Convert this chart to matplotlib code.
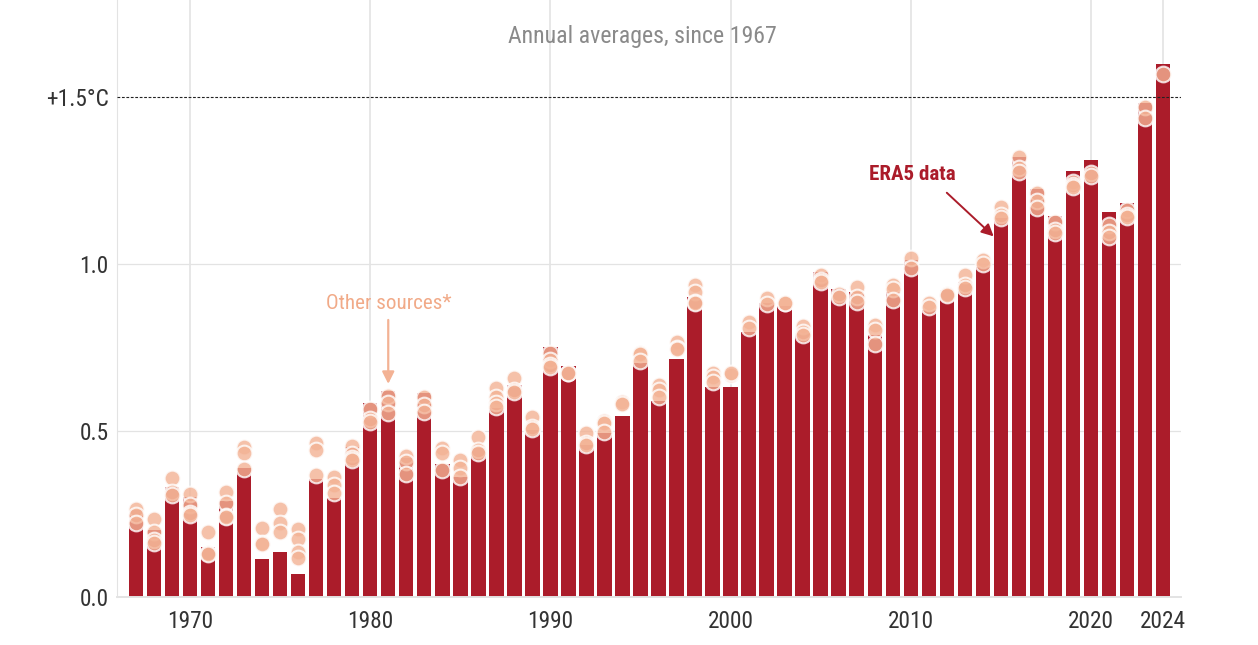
#! /usr/bin/python3

import matplotlib
matplotlib.use("Agg")
import matplotlib.pyplot as plt
from matplotlib import font_manager

names = {f.name for f in font_manager.fontManager.ttflist}
cond = "Roboto Condensed" if "Roboto Condensed" in names else "Roboto"
plt.rcParams['font.family'] = [cond, 'DejaVu Sans']

### Data
years = list(range(1967, 2025))
era5 = [0.26, 0.20, 0.33, 0.30, 0.15, 0.288, 0.387, 0.114, 0.135, 0.069,
        0.354, 0.297, 0.45, 0.582, 0.618, 0.417, 0.612, 0.399, 0.36, 0.447,
        0.567, 0.636, 0.501, 0.751, 0.694, 0.456, 0.492, 0.543, 0.702, 0.588,
        0.714, 0.90, 0.631, 0.63, 0.796, 0.883, 0.874, 0.793, 0.976, 0.925,
        0.916, 0.787, 0.916, 1.012, 0.862, 0.922, 0.946, 0.991, 1.138, 1.321,
        1.225, 1.144, 1.279, 1.312, 1.156, 1.183, 1.483, 1.60]

others = [[.264, .246, .222], [.234, .195, .171, .162], [.357, .315, .306], [.309, .276, .252, .246],
          [.195, .132, .129], [.315, .282, .243, .24], [.45, .432, .384], [.207, .162, .159],
          [.264, .222, .195], [.204, .174, .135, .117], [.462, .441, .366], [.36, .336, .312],
          [.453, .429, .417, .411], [.564, .534, .525], [.603, .582, .552], [.423, .405, .369],
          [.600, .576, .555], [.447, .432, .381], [.411, .387, .36], [.48, .441, .432],
          [.627, .6, .582, .57], [.657, .621, .615], [.54, .51, .504], [.732, .711, .696, .69],
          [.672, .672], [.492, .462, .456], [.528, .522, .495], [.585, .579], [.732, .729, .708],
          [.636, .621, .6], [.765, .747, .744], [.936, .915, .885, .882], [.672, .66, .645],
          [.666, .672], [.825, .807], [.897, .879], [.882, .882], [.813, .795, .786],
          [.966, .951, .945], [.909, .9], [.93, .9, .885], [.816, .801, .759], [.936, .924, .891],
          [1.017, .987], [.882, .87], [.909, .906], [.966, .936, .927], [1.012, 1.0],
          [1.171, 1.147, 1.138], [1.321, 1.288, 1.276], [1.213, 1.189, 1.168], [1.126, 1.102, 1.093],
          [1.246, 1.237, 1.231], [1.273, 1.264], [1.117, 1.096, 1.081], [1.162, 1.147, 1.141],
          [1.471, 1.438], [1.57]]

xticks = [1970, 1980, 1990, 2000, 2010, 2020, 2024]
yticks = [0.0, 0.5, 1.0, 1.5]
ylabels = ["0.0", "0.5", "1.0", "+1.5°C"]

RED = "#ab1c2a"
PEACH = "#f3b294"
GRID = "#e3e3e3"
TEXT = "#333333"

#Figure, axes placed by hand to line up with the pixels
fig = plt.figure(figsize=(12.58, 6.45), dpi=100)
ax = fig.add_axes([117/1258, 48/645, (1181-117)/1258, 597/645])
x0 = 1967 - 19/18.018
x1 = 2024 + 18/18.018
ax.set_xlim(x0, x1)
ax.set_ylim(0, 597/333)

for s in ax.spines.values():
    s.set_visible(False)
ax.spines['left'].set_visible(True)
ax.spines['left'].set_color(GRID)
ax.spines['bottom'].set_visible(True)
ax.spines['bottom'].set_color(GRID)
ax.spines['bottom'].set_linewidth(1.4)

ax.set_axisbelow(True)
ax.vlines(xticks, 0, 597/333, color=GRID, lw=1.2, zorder=0)
ax.hlines([0.5, 1.0], x0, x1, color=GRID, lw=0.9, zorder=0)

ax.bar(years, era5, width=0.8, color=RED, zorder=2)

for year, vals in zip(years, others):
    ax.scatter([year]*len(vals), vals, s=128, facecolor=PEACH, edgecolor=(1, 1, 1, 0.6),
               linewidth=1.5, alpha=0.8, zorder=3)

ax.hlines(1.5, x0, x1, color="#222222", lw=0.8, linestyle=(0, (2.5, 1.5)), zorder=4)

ax.set_xticks(xticks)
ax.set_xticklabels([str(x) for x in xticks], fontsize=16.8, color=TEXT)
ax.set_yticks(yticks)
ax.set_yticklabels(ylabels, fontsize=16.8, color=TEXT)
ax.tick_params(axis='both', length=0)
ax.tick_params(axis='x', pad=9.5)
ax.tick_params(axis='y', pad=6)

ax.text(642.5/1258, 1 - 37/645, "Annual averages, since 1967", transform=fig.transFigure,
        ha='center', va='center', fontsize=17.2, color="#8a8a8a")

ax.text(1981.05, 0.88, "Other sources*", ha='center', va='center', fontsize=15.2, color="#f1aa88")
ax.annotate("", xy=(1981, 0.64), xytext=(1981, 0.832),
            arrowprops=dict(arrowstyle='-|>', color=PEACH, lw=1.6, mutation_scale=18, shrinkA=0, shrinkB=0))
ax.text(2010.1, 1.27, "ERA5 data", ha='center', va='center', fontsize=15.1, fontweight='bold', color=RED)
ax.annotate("", xy=(2014.6, 1.083), xytext=(2012, 1.214),
            arrowprops=dict(arrowstyle='-|>', color=RED, lw=1.4, mutation_scale=18, shrinkA=0, shrinkB=0))

plt.savefig("out.png", dpi=100)
